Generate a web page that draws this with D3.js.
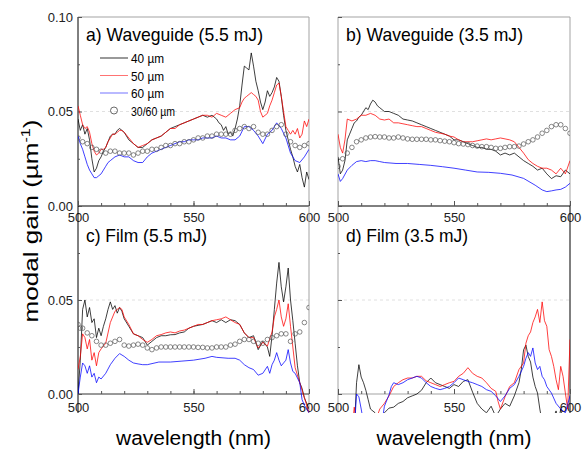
<!DOCTYPE html>
<html>
<head>
<meta charset="utf-8">
<script src="https://cdn.jsdelivr.net/npm/d3@7"></script>
<style>
  body { margin: 0; background: #fff; }
  text { font-family: Arial, "Liberation Sans", Helvetica, sans-serif; }
</style>
</head>
<body>
<div id="grafica"></div>
<script>
// ---- datos: [longitud de onda (nm), ganancia modal (um^-1)] ----
const titulos = ["a) Waveguide (5.5 mJ)", "b) Waveguide (3.5 mJ)", "c) Film (5.5 mJ)", "d) Film (3.5 mJ)"];
const leyenda = ["40 µm", "50 µm", "60 µm", "30/60 µm"];
const ticksX = [500, 550, 600];
const ticksY = [0, 0.05, 0.1];

const aBlack = [[500,0.046],[501,0.040],[502,0.043],[503,0.038],[504,0.041],[505,0.035],[506,0.025],[507,0.018],[508,0.020],[509,0.024],[510,0.026],[511,0.029],[512,0.031],[513,0.034],[514,0.037],[515,0.038],[516,0.038],[517,0.040],[518,0.041],[519,0.040],[520,0.039],[522,0.035],[524,0.033],[526,0.031],[528,0.031],[530,0.033],[532,0.035],[534,0.036],[536,0.037],[538,0.039],[540,0.041],[542,0.042],[544,0.043],[546,0.044],[548,0.045],[550,0.046],[552,0.047],[554,0.048],[556,0.047],[558,0.048],[560,0.046],[561,0.044],[562,0.043],[563,0.040],[564,0.042],[565,0.038],[566,0.039],[567,0.037],[568,0.041],[569,0.046],[570,0.053],[571,0.064],[572,0.074],[573,0.073],[574,0.072],[575,0.081],[576,0.074],[577,0.066],[578,0.061],[579,0.055],[580,0.051],[581,0.055],[582,0.061],[583,0.058],[584,0.060],[585,0.063],[586,0.068],[587,0.066],[588,0.058],[589,0.048],[590,0.040],[591,0.035],[592,0.030],[593,0.026],[594,0.021],[595,0.018],[596,0.022],[597,0.015],[598,0.010],[599,0.018],[600,0.014]];
const aRed = [[500,0.053],[501,0.048],[502,0.043],[503,0.041],[504,0.042],[505,0.039],[506,0.033],[507,0.029],[508,0.027],[509,0.028],[510,0.030],[511,0.030],[512,0.031],[513,0.034],[514,0.036],[515,0.038],[516,0.038],[517,0.039],[518,0.040],[519,0.040],[520,0.039],[522,0.036],[524,0.033],[526,0.031],[528,0.032],[530,0.033],[532,0.035],[534,0.036],[536,0.037],[538,0.039],[540,0.041],[542,0.041],[544,0.043],[546,0.044],[548,0.045],[550,0.046],[552,0.047],[554,0.048],[556,0.048],[558,0.047],[560,0.049],[562,0.048],[564,0.047],[566,0.049],[568,0.051],[570,0.052],[571,0.055],[572,0.057],[573,0.058],[574,0.059],[575,0.060],[576,0.059],[577,0.058],[578,0.056],[579,0.050],[580,0.047],[581,0.048],[582,0.049],[583,0.053],[584,0.056],[585,0.060],[586,0.064],[587,0.065],[588,0.058],[589,0.050],[590,0.042],[591,0.040],[592,0.038],[593,0.040],[594,0.038],[595,0.041],[596,0.036],[597,0.038],[598,0.045],[599,0.042],[600,0.046]];
const aBlue = [[500,0.037],[501,0.033],[502,0.030],[503,0.026],[504,0.022],[505,0.019],[506,0.017],[507,0.015],[508,0.015],[509,0.016],[510,0.017],[511,0.019],[512,0.021],[513,0.023],[514,0.024],[516,0.026],[518,0.027],[520,0.026],[522,0.026],[524,0.024],[526,0.023],[528,0.023],[530,0.026],[532,0.028],[534,0.029],[536,0.030],[538,0.031],[540,0.032],[542,0.033],[544,0.034],[546,0.034],[548,0.035],[550,0.035],[552,0.035],[554,0.036],[556,0.036],[558,0.036],[560,0.037],[562,0.036],[564,0.036],[566,0.035],[568,0.035],[570,0.037],[572,0.042],[574,0.042],[576,0.040],[578,0.037],[580,0.033],[582,0.038],[584,0.040],[586,0.044],[588,0.041],[590,0.036],[592,0.028],[594,0.024],[596,0.023],[598,0.026],[600,0.030]];
const aOpen = [[500,0.036],[502,0.034],[504,0.033],[506,0.031],[508,0.030],[510,0.029],[512,0.028],[514,0.029],[516,0.029],[518,0.028],[520,0.028],[522,0.028],[524,0.027],[526,0.028],[528,0.029],[530,0.029],[532,0.030],[534,0.030],[536,0.031],[538,0.032],[540,0.032],[542,0.033],[544,0.033],[546,0.034],[548,0.034],[550,0.035],[552,0.036],[554,0.036],[556,0.037],[558,0.037],[560,0.038],[562,0.038],[564,0.038],[566,0.038],[568,0.040],[570,0.041],[572,0.042],[574,0.041],[576,0.042],[578,0.039],[580,0.038],[582,0.038],[584,0.040],[586,0.042],[588,0.043],[590,0.038],[592,0.034],[594,0.032],[596,0.031],[598,0.032],[600,0.033]];

const bBlack = [[500,0.026],[501,0.017],[502,0.019],[503,0.024],[504,0.035],[505,0.038],[506,0.041],[507,0.044],[508,0.045],[509,0.047],[510,0.048],[511,0.050],[512,0.052],[513,0.051],[514,0.054],[515,0.056],[516,0.055],[517,0.053],[518,0.052],[519,0.051],[520,0.050],[522,0.050],[524,0.049],[526,0.048],[528,0.046],[530,0.0455],[532,0.045],[534,0.044],[536,0.043],[538,0.042],[540,0.041],[542,0.040],[544,0.039],[546,0.038],[548,0.037],[550,0.035],[552,0.035],[554,0.034],[556,0.033],[558,0.032],[560,0.031],[562,0.031],[564,0.030],[566,0.030],[568,0.029],[570,0.027],[572,0.028],[574,0.027],[576,0.028],[578,0.026],[580,0.024],[582,0.0225],[584,0.021],[586,0.019],[588,0.020],[590,0.017],[592,0.0145],[594,0.016],[596,0.0155],[598,0.019],[600,0.017]];
const bRed = [[500,0.038],[501,0.031],[502,0.028],[503,0.035],[504,0.046],[506,0.045],[508,0.046],[510,0.048],[512,0.048],[514,0.049],[516,0.048],[518,0.046],[520,0.0455],[522,0.046],[524,0.044],[526,0.044],[528,0.0435],[530,0.043],[532,0.0425],[534,0.042],[536,0.042],[538,0.041],[540,0.040],[542,0.039],[544,0.0385],[546,0.038],[548,0.037],[550,0.0365],[552,0.035],[554,0.034],[556,0.034],[558,0.034],[560,0.0345],[562,0.035],[564,0.0355],[566,0.035],[568,0.0355],[570,0.036],[572,0.0355],[574,0.035],[576,0.034],[578,0.031],[580,0.028],[582,0.0245],[584,0.0225],[586,0.021],[588,0.020],[590,0.020],[592,0.019],[594,0.017],[596,0.020],[598,0.017],[600,0.024]];
const bBlue = [[500,0.017],[501,0.013],[502,0.0145],[504,0.019],[506,0.0215],[508,0.0235],[510,0.024],[512,0.0235],[514,0.024],[516,0.024],[518,0.0235],[520,0.023],[525,0.0225],[530,0.0225],[535,0.022],[540,0.0215],[545,0.0208],[550,0.020],[555,0.019],[560,0.018],[565,0.0178],[570,0.0173],[575,0.0164],[580,0.0146],[585,0.011],[588,0.0085],[590,0.0076],[592,0.008],[594,0.0085],[596,0.0088],[598,0.010],[600,0.012]];
const bOpen = [[500,0.021],[502,0.025],[504,0.028],[506,0.031],[508,0.034],[510,0.035],[512,0.036],[514,0.0365],[516,0.0367],[518,0.0365],[520,0.0365],[522,0.036],[524,0.036],[526,0.0365],[528,0.036],[530,0.0355],[532,0.0353],[534,0.0353],[536,0.0353],[538,0.0353],[540,0.035],[542,0.035],[544,0.0346],[546,0.0343],[548,0.034],[550,0.0335],[552,0.033],[554,0.0328],[556,0.0325],[558,0.032],[560,0.0317],[562,0.0314],[564,0.0314],[566,0.031],[568,0.0305],[570,0.0305],[572,0.031],[574,0.0314],[576,0.0314],[578,0.0317],[580,0.0328],[582,0.034],[584,0.035],[586,0.0365],[588,0.0385],[590,0.040],[592,0.042],[594,0.043],[596,0.043],[598,0.041],[600,0.0385]];

const cBlack = [[500,0.0],[501,0.018],[502,0.045],[503,0.050],[504,0.041],[505,0.046],[506,0.038],[507,0.040],[508,0.030],[509,0.035],[510,0.031],[511,0.036],[512,0.040],[513,0.045],[514,0.049],[515,0.045],[516,0.047],[517,0.043],[518,0.046],[519,0.044],[520,0.040],[522,0.036],[524,0.032],[526,0.031],[528,0.030],[530,0.026],[532,0.028],[534,0.030],[536,0.031],[538,0.031],[540,0.0315],[542,0.0316],[544,0.0325],[546,0.033],[548,0.035],[550,0.036],[552,0.0365],[554,0.037],[556,0.038],[558,0.039],[560,0.038],[562,0.0395],[564,0.038],[566,0.0395],[568,0.039],[570,0.037],[572,0.0325],[574,0.030],[576,0.031],[578,0.0236],[580,0.028],[582,0.025],[583,0.020],[584,0.031],[585,0.045],[586,0.059],[587,0.070],[588,0.057],[589,0.049],[590,0.057],[591,0.067],[592,0.050],[593,0.039],[594,0.027],[595,0.015],[596,0.006],[597,0.003],[598,-0.002],[600,-0.008]];
const cRed = [[500,0.013],[501,0.020],[502,0.032],[503,0.030],[504,0.024],[505,0.029],[506,0.018],[507,0.022],[508,0.015],[509,0.022],[510,0.024],[512,0.027],[514,0.038],[516,0.044],[518,0.046],[519,0.045],[520,0.041],[522,0.037],[524,0.032],[526,0.031],[528,0.029],[530,0.0275],[532,0.029],[534,0.031],[536,0.0316],[538,0.0325],[540,0.033],[542,0.0325],[544,0.0335],[546,0.034],[548,0.035],[550,0.036],[552,0.037],[554,0.037],[556,0.038],[558,0.039],[560,0.0395],[562,0.040],[564,0.041],[566,0.0395],[568,0.038],[570,0.037],[572,0.0325],[574,0.030],[576,0.030],[578,0.0245],[580,0.0275],[582,0.0255],[584,0.033],[585,0.041],[586,0.045],[587,0.050],[588,0.041],[589,0.036],[590,0.040],[591,0.048],[592,0.036],[593,0.025],[594,0.014],[596,0.006],[598,-0.002],[600,-0.010]];
const cBlue = [[500,0.0],[501,0.009],[502,0.0165],[503,0.015],[504,0.011],[505,0.015],[506,0.009],[507,0.011],[508,0.006],[509,0.009],[510,0.008],[512,0.011],[514,0.0156],[516,0.019],[518,0.0215],[520,0.020],[522,0.018],[524,0.0165],[526,0.016],[528,0.0156],[530,0.0156],[535,0.017],[540,0.017],[545,0.0175],[550,0.018],[555,0.019],[558,0.020],[560,0.0195],[565,0.019],[568,0.019],[570,0.018],[572,0.0156],[574,0.014],[576,0.013],[578,0.010],[580,0.011],[582,0.0147],[583,0.011],[584,0.0156],[585,0.018],[586,0.022],[587,0.018],[588,0.015],[589,0.0165],[590,0.018],[591,0.0236],[592,0.0165],[593,0.012],[594,0.011],[596,0.006],[597,-0.003],[598,-0.006],[600,-0.010]];
const cOpen = [[500,0.037],[501,0.035],[502,0.035],[504,0.0325],[506,0.031],[508,0.028],[510,0.026],[512,0.026],[514,0.027],[516,0.028],[518,0.029],[520,0.026],[522,0.0255],[524,0.026],[526,0.0265],[528,0.026],[530,0.0245],[532,0.0236],[534,0.0245],[536,0.025],[538,0.025],[540,0.025],[542,0.025],[544,0.025],[546,0.025],[548,0.025],[550,0.025],[552,0.0248],[554,0.0248],[556,0.0245],[558,0.0245],[560,0.025],[562,0.025],[564,0.025],[566,0.026],[568,0.0265],[570,0.028],[572,0.029],[574,0.029],[576,0.028],[578,0.027],[580,0.027],[582,0.029],[584,0.030],[586,0.031],[588,0.032],[590,0.032],[592,0.028],[594,0.032],[596,0.033],[598,0.038],[600,0.046]];

const dBlack = [[500,-0.02],[507,-0.02],[508,0.006],[509,0.0156],[510,0.009],[511,0.006],[512,0.002],[513,-0.003],[514,-0.008],[516,-0.010],[518,-0.013],[520,-0.010],[522,-0.0075],[524,-0.007],[526,-0.005],[528,-0.004],[530,-0.002],[532,-0.001],[534,0.0],[536,0.002],[538,0.006],[540,0.0085],[542,0.006],[544,0.005],[546,0.004],[548,0.003],[550,0.005],[552,0.004],[554,0.0067],[556,0.0076],[558,0.001],[560,-0.005],[562,-0.008],[564,-0.010],[566,-0.0065],[568,-0.012],[570,-0.008],[572,-0.005],[574,-0.0065],[576,-0.001],[578,0.006],[579,0.013],[580,0.0235],[581,0.026],[582,0.020],[583,0.017],[584,0.009],[585,0.004],[586,0.0005],[587,-0.008],[588,-0.015],[592,-0.015],[594,-0.009],[595,-0.015],[596,-0.008],[597,-0.015],[600,-0.015]];
const dRed = [[500,-0.02],[506,-0.02],[507,-0.007],[508,-0.015],[516,-0.015],[518,-0.008],[520,-0.005],[522,-0.001],[524,0.004],[526,0.006],[528,0.0076],[530,0.0085],[532,0.0085],[534,0.0094],[536,0.0094],[538,0.007],[540,0.006],[542,0.005],[544,0.004],[546,0.005],[548,0.006],[550,0.0067],[552,0.0094],[554,0.011],[556,0.014],[558,0.011],[560,0.0094],[562,0.0085],[564,0.006],[566,0.003],[568,0.0014],[569,-0.004],[570,-0.008],[572,-0.0015],[574,0.004],[576,0.006],[578,0.013],[580,0.0165],[581,0.027],[582,0.031],[583,0.033],[584,0.038],[585,0.041],[586,0.045],[587,0.038],[588,0.049],[589,0.039],[590,0.036],[591,0.0236],[592,0.020],[593,0.0147],[594,0.0076],[595,0.0023],[596,0.0147],[597,0.0094],[598,0.0005],[599,-0.008],[600,0.029]];
const dBlue = [[500,-0.02],[507,-0.02],[508,0.0],[509,-0.0015],[510,-0.008],[511,-0.015],[519,-0.015],[520,-0.0065],[522,-0.0004],[523,0.004],[524,0.006],[526,0.005],[528,0.006],[530,0.0076],[532,0.0085],[534,0.0094],[536,0.0085],[538,0.006],[540,0.004],[542,0.003],[544,0.0023],[546,0.003],[548,0.004],[550,0.006],[552,0.0085],[554,0.0076],[556,0.0067],[558,0.006],[560,0.005],[562,0.004],[564,0.0023],[566,0.0014],[568,-0.001],[570,-0.004],[572,-0.001],[574,0.003],[576,0.005],[578,0.0094],[580,0.0147],[581,0.019],[582,0.022],[583,0.020],[584,0.0245],[585,0.0165],[586,0.013],[587,0.0147],[588,0.0094],[589,0.0076],[590,0.004],[592,0.0005],[594,-0.005],[596,-0.008],[598,-0.010],[600,-0.001]];

// ---- disposicion ----
let width = 585, height = 454;
let gris = "#a3a3a3";
let fuente = "Arial, Liberation Sans, Helvetica, sans-serif";

let paneles = [
  { titulo: titulos[0], lineas: [aBlack, aRed, aBlue], circulos: aOpen,
    x0: 78, x1: 309, y0: 17, y1: 206, yClip: 206, etiquetasY: ticksY, padX: 7,
    tituloY: 41, tituloLen: 177, bordes: { izq: "#000", abajo: "#000", der: gris, arriba: gris } },
  { titulo: titulos[1], lineas: [bBlack, bRed, bBlue], circulos: bOpen,
    x0: 338, x1: 570, y0: 17, y1: 206, yClip: 206, etiquetasY: null, padX: 7,
    tituloY: 41, tituloLen: 177, bordes: { izq: gris, abajo: "#000", der: gris, arriba: gris } },
  { titulo: titulos[2], lineas: [cBlack, cRed, cBlue], circulos: cOpen,
    x0: 78, x1: 309, y0: 206, y1: 394, yClip: 413, etiquetasY: [0, 0.05], padX: 9,
    tituloY: 242, tituloLen: 121, bordes: { izq: "#000", abajo: "#333", der: gris, arriba: null } },
  { titulo: titulos[3], lineas: [dBlack, dRed, dBlue], circulos: null,
    x0: 338, x1: 570, y0: 206, y1: 394, yClip: 413, etiquetasY: null, padX: 9,
    tituloY: 242, tituloLen: 122, bordes: { izq: gris, abajo: gris, der: "#000", arriba: null } },
];
let colores = ["#000", "#ff0000", "#0000ff"];

let svg = d3
  .select("#grafica")
  .append("svg")
  .attr("width", width)
  .attr("height", height);

paneles.forEach((p, i) => {
  let x = d3.scaleLinear().domain([500, 600]).range([p.x0, p.x1]);
  let y = d3.scaleLinear().domain([0, 0.1]).range([p.y1, p.y0]);
  let g = svg.append("g");

  // rejilla en 0.05
  g.append("line")
    .attr("x1", p.x0).attr("x2", p.x1)
    .attr("y1", y(0.05)).attr("y2", y(0.05))
    .attr("stroke", "#d8d8d8")
    .attr("stroke-dasharray", "3,3")
    .attr("stroke-width", 0.8);

  // bordes
  let b = p.bordes;
  if (b.arriba) g.append("line").attr("x1", p.x0).attr("x2", p.x1).attr("y1", p.y0).attr("y2", p.y0).attr("stroke", b.arriba);
  g.append("line").attr("x1", p.x1).attr("x2", p.x1).attr("y1", p.y0).attr("y2", p.yClip).attr("stroke", b.der);
  g.append("line").attr("x1", p.x0).attr("x2", p.x0).attr("y1", p.y0).attr("y2", p.yClip).attr("stroke", b.izq);
  g.append("line").attr("x1", p.x0).attr("x2", p.x1).attr("y1", p.y1).attr("y2", p.y1).attr("stroke", b.abajo);

  // eje x
  g.append("g")
    .attr("transform", "translate(0," + p.y1 + ")")
    .call(d3.axisBottom(x).tickValues(d3.range(500, 601, 10)).tickSize(-3).tickSizeOuter(0).tickFormat(""))
    .call((a) => a.select(".domain").remove())
    .call((a) => a.selectAll("line").attr("stroke", "#555"));
  g.append("g")
    .attr("transform", "translate(0," + p.y1 + ")")
    .attr("font-family", fuente)
    .call(d3.axisBottom(x).tickValues(ticksX).tickSize(-5).tickSizeOuter(0).tickPadding(p.padX))
    .call((a) => a.select(".domain").remove())
    .call((a) => a.selectAll("line").attr("stroke", "#555"))
    .call((a) => a.selectAll("text").attr("font-size", 13).attr("fill", "#222"));

  // eje y
  g.append("g")
    .attr("transform", "translate(" + p.x0 + ",0)")
    .call(d3.axisLeft(y).tickValues([0.025, 0.075]).tickSize(-2).tickFormat(""))
    .call((a) => a.select(".domain").remove())
    .call((a) => a.selectAll("line").attr("stroke", "#555"));
  g.append("g")
    .attr("transform", "translate(" + p.x0 + ",0)")
    .attr("font-family", fuente)
    .call(d3.axisLeft(y).tickValues(p.etiquetasY || ticksY).tickSize(-4).tickPadding(5)
      .tickFormat(p.etiquetasY ? d3.format(".2f") : ""))
    .call((a) => a.select(".domain").remove())
    .call((a) => a.selectAll("line").attr("stroke", "#555"))
    .call((a) => a.selectAll("text").attr("font-size", 13).attr("fill", "#222"));

  // curvas
  let clipId = "clip" + i;
  svg.append("clipPath").attr("id", clipId)
    .append("rect")
    .attr("x", p.x0).attr("y", p.y0)
    .attr("width", p.x1 - p.x0).attr("height", p.yClip - p.y0);

  let linea = d3.line().x((d) => x(d[0])).y((d) => y(d[1]));
  let curvas = g.append("g").attr("clip-path", "url(#" + clipId + ")");

  p.lineas.forEach((serie, k) => {
    curvas.append("path")
      .datum(serie)
      .attr("d", linea)
      .attr("fill", "none")
      .attr("stroke", colores[k])
      .attr("stroke-width", 0.75)
      .attr("stroke-linejoin", "round");
  });

  if (p.circulos) {
    curvas.selectAll("circle")
      .data(p.circulos)
      .enter()
      .append("circle")
      .attr("cx", (d) => x(d[0]))
      .attr("cy", (d) => y(d[1]))
      .attr("r", 2.3)
      .attr("fill", "none")
      .attr("stroke", "#555")
      .attr("stroke-width", 0.7);
  }

  // titulo del panel
  g.append("text")
    .attr("x", p.x0 + 8)
    .attr("y", p.tituloY)
    .attr("font-size", 19)
    .attr("textLength", p.tituloLen)
    .attr("lengthAdjust", "spacingAndGlyphs")
    .attr("fill", "#000")
    .text(p.titulo);
});

// leyenda (panel a)
let ley = svg.append("g");
leyenda.forEach((txt, k) => {
  let yy = 58 + k * 17.5;
  if (k < 3) {
    ley.append("line")
      .attr("x1", 100).attr("x2", 128)
      .attr("y1", yy).attr("y2", yy)
      .attr("stroke", colores[k])
      .attr("stroke-opacity", k === 0 ? 0.8 : 0.55)
      .attr("stroke-width", 1);
  } else {
    ley.append("circle")
      .attr("cx", 114).attr("cy", yy)
      .attr("r", 3.5)
      .attr("fill", "none")
      .attr("stroke", "#444")
      .attr("stroke-width", 0.8);
  }
  ley.append("text")
    .attr("x", 131)
    .attr("y", yy + 5)
    .attr("font-size", 13.5)
    .attr("textLength", k < 3 ? 33 : 44)
    .attr("lengthAdjust", "spacingAndGlyphs")
    .attr("fill", "#000")
    .text(txt);
});

// titulos de los ejes
let tituloY = svg.append("text")
  .attr("transform", "translate(38,221) rotate(-90)")
  .attr("text-anchor", "middle")
  .attr("font-size", 21)
  .attr("textLength", 203)
  .attr("lengthAdjust", "spacingAndGlyphs")
  .attr("fill", "#000");
tituloY.append("tspan").text("modal gain (µm");
tituloY.append("tspan").attr("font-size", 13).attr("dy", -8).text("-1");
tituloY.append("tspan").attr("dy", 8).text(")");

[paneles[2], paneles[3]].forEach((p) => {
  svg.append("text")
    .attr("x", (p.x0 + p.x1) / 2)
    .attr("y", 445)
    .attr("text-anchor", "middle")
    .attr("font-size", 20.5)
    .attr("textLength", 155)
    .attr("lengthAdjust", "spacingAndGlyphs")
    .attr("fill", "#000")
    .text("wavelength (nm)");
});
</script>
</body>
</html>
